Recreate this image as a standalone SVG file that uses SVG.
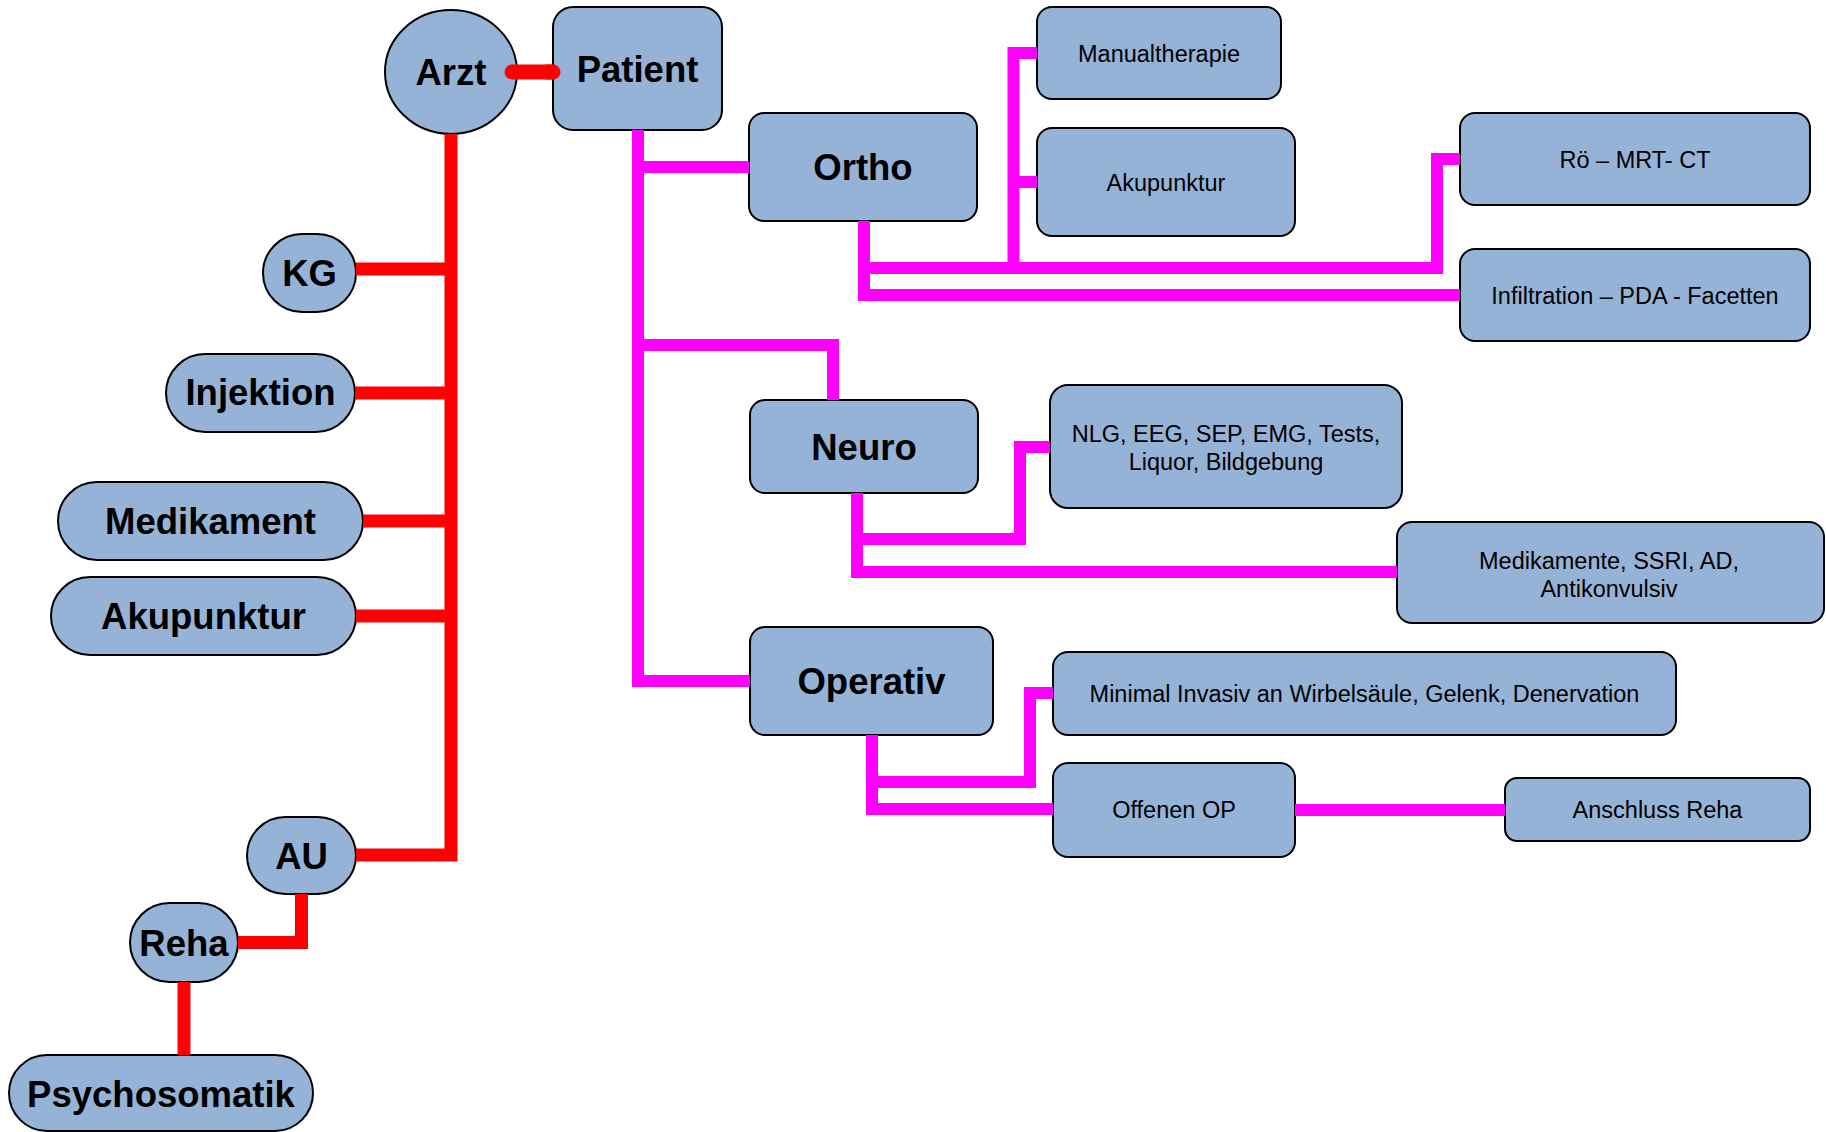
<svg xmlns="http://www.w3.org/2000/svg" width="1826" height="1132" viewBox="0 0 1826 1132">
<style>
.n{fill:#95b3d7;stroke:#000;stroke-width:2}
.b{font-family:"Liberation Sans",Arial,sans-serif;font-weight:bold;font-size:36.5px;fill:#000;text-anchor:middle}
.t{font-family:"Liberation Sans",Arial,sans-serif;font-size:23.5px;fill:#000;text-anchor:middle}
.r{fill:none;stroke:#ff0000;stroke-width:13;stroke-linejoin:miter}
.m{fill:none;stroke:#ff00ff;stroke-width:12;stroke-linejoin:miter}
</style>
<rect width="1826" height="1132" fill="#fff"/>
<g id="arzt"><ellipse class="n" cx="451" cy="72" rx="66" ry="62"/><text class="b" x="451" y="85">Arzt</text></g>
<g id="patient"><rect class="n" x="553" y="7" width="169" height="123" rx="20"/><text class="b" x="637.5" y="82">Patient</text></g>
<g id="kg"><rect class="n" x="263" y="234" width="93" height="78" rx="39"/><text class="b" x="309.5" y="286">KG</text></g>
<g id="injektion"><rect class="n" x="166" y="354" width="189" height="78" rx="39"/><text class="b" x="260.5" y="405">Injektion</text></g>
<g id="medikament"><rect class="n" x="58" y="482" width="305" height="78" rx="39"/><text class="b" x="210.5" y="534">Medikament</text></g>
<g id="akupunktur-l"><rect class="n" x="51" y="577" width="305" height="78" rx="39"/><text class="b" x="203.5" y="629">Akupunktur</text></g>
<g id="au"><rect class="n" x="247" y="817" width="109" height="77" rx="38.5"/><text class="b" x="301.5" y="868.5">AU</text></g>
<g id="reha"><rect class="n" x="130" y="903" width="108" height="79" rx="39.5"/><text class="b" x="184" y="956">Reha</text></g>
<g id="psychosomatik"><rect class="n" x="9" y="1055" width="304" height="76" rx="38"/><text class="b" x="161" y="1107">Psychosomatik</text></g>
<g id="ortho"><rect class="n" x="749" y="113" width="228" height="108" rx="15"/><text class="b" x="863" y="180">Ortho</text></g>
<g id="neuro"><rect class="n" x="750" y="400" width="228" height="93" rx="15"/><text class="b" x="864" y="459.5">Neuro</text></g>
<g id="operativ"><rect class="n" x="750" y="627" width="243" height="108" rx="15"/><text class="b" x="871.5" y="694">Operativ</text></g>
<g id="manualtherapie"><rect class="n" x="1037" y="7" width="244" height="92" rx="15"/><text class="t" x="1159" y="61.5">Manualtherapie</text></g>
<g id="akupunktur-r"><rect class="n" x="1037" y="128" width="258" height="108" rx="15"/><text class="t" x="1166" y="190.5">Akupunktur</text></g>
<g id="roe"><rect class="n" x="1460" y="113" width="350" height="92" rx="15"/><text class="t" x="1635" y="167.5">Rö – MRT- CT</text></g>
<g id="infiltration"><rect class="n" x="1460" y="249" width="350" height="92" rx="15"/><text class="t" x="1635" y="303.5">Infiltration – PDA - Facetten</text></g>
<g id="nlg"><rect class="n" x="1050" y="385" width="352" height="123" rx="18"/><text class="t" x="1226" y="442">NLG, EEG, SEP, EMG, Tests,</text><text class="t" x="1226" y="470">Liquor, Bildgebung</text></g>
<g id="medikamente"><rect class="n" x="1397" y="522" width="427" height="101" rx="15"/><text class="t" x="1609" y="569">Medikamente, SSRI, AD,</text><text class="t" x="1609" y="597">Antikonvulsiv</text></g>
<g id="minimal"><rect class="n" x="1053" y="652" width="623" height="83" rx="15"/><text class="t" x="1364.5" y="702">Minimal Invasiv an Wirbelsäule, Gelenk, Denervation</text></g>
<g id="offenen-op"><rect class="n" x="1053" y="763" width="242" height="94" rx="15"/><text class="t" x="1174" y="818">Offenen OP</text></g>
<g id="anschluss-reha"><rect class="n" x="1505" y="778" width="305" height="63" rx="12"/><text class="t" x="1657.5" y="818">Anschluss Reha</text></g>
<g id="connectors">
<line x1="512" y1="72" x2="553" y2="72" stroke="#ff0000" stroke-width="15" stroke-linecap="round"/>
<line x1="545" y1="72" x2="553" y2="72" stroke="#ff0000" stroke-width="15"/>
<polyline class="r" points="451,134 451,855 356,855"/>
<line class="r" x1="356" y1="269" x2="451" y2="269"/>
<line class="r" x1="355" y1="393" x2="451" y2="393"/>
<line class="r" x1="363" y1="521" x2="451" y2="521"/>
<line class="r" x1="356" y1="616" x2="451" y2="616"/>
<polyline class="r" points="301.5,894 301.5,942.5 238,942.5"/>
<line class="r" x1="184" y1="982" x2="184" y2="1055"/>
<polyline class="m" points="638,130 638,681 750,681"/>
<line class="m" x1="638" y1="167" x2="749" y2="167"/>
<polyline class="m" points="638,345 833,345 833,400"/>
<polyline class="m" points="864,221 864,295 1460,295"/>
<polyline class="m" points="864,268 1437,268 1437,159 1460,159"/>
<polyline class="m" points="1013.5,268 1013.5,53 1037,53"/>
<line class="m" x1="1013.5" y1="182" x2="1037" y2="182"/>
<polyline class="m" points="857,493 857,572 1397,572"/>
<polyline class="m" points="857,539 1020,539 1020,447 1050,447"/>
<polyline class="m" points="872,735 872,809 1053,809"/>
<polyline class="m" points="872,782 1030,782 1030,693 1053,693"/>
<line class="m" x1="1295" y1="810" x2="1505" y2="810" stroke-width="13"/>
</g>
</svg>
